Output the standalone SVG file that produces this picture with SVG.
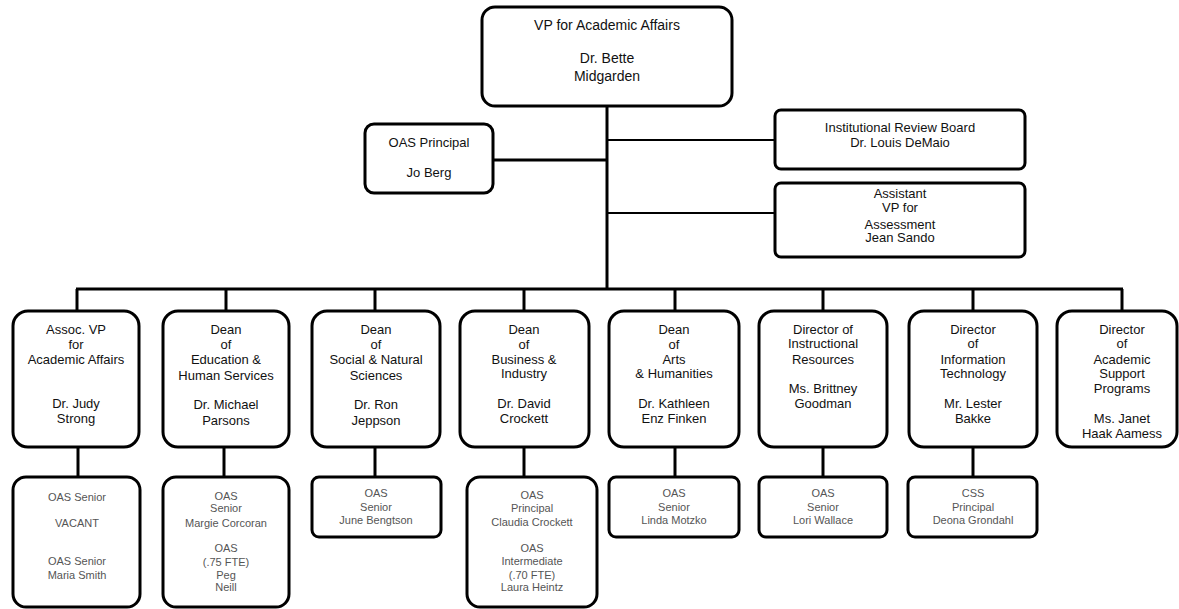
<svg xmlns="http://www.w3.org/2000/svg" width="1179" height="609" viewBox="0 0 1179 609">
<style>
.box{fill:#fff;stroke:#000;stroke-width:3}
.ln{stroke:#000;stroke-width:3;fill:none}
.thin{stroke:#000;stroke-width:2;fill:none}
text{font-family:"Liberation Sans",Arial,sans-serif;text-anchor:middle;fill:#111}
.t14{font-size:14px}
.t13{font-size:13px}
.s{font-size:11px;fill:#555}
</style>
<rect width="1179" height="609" fill="#fff"/>
<g id="connectors">
<line class="ln" x1="607" y1="106" x2="607" y2="289"/>
<line class="ln" x1="493" y1="160" x2="607" y2="160"/>
<line class="thin" x1="607" y1="140" x2="775" y2="140"/>
<line class="thin" x1="607" y1="213" x2="775" y2="213"/>
<line class="ln" x1="76" y1="289" x2="1123" y2="289"/>
<line class="ln" x1="77" y1="289" x2="77" y2="311"/>
<line class="ln" x1="226" y1="289" x2="226" y2="311"/>
<line class="ln" x1="375" y1="289" x2="375" y2="311"/>
<line class="ln" x1="524" y1="289" x2="524" y2="311"/>
<line class="ln" x1="675" y1="289" x2="675" y2="311"/>
<line class="ln" x1="823" y1="289" x2="823" y2="311"/>
<line class="ln" x1="973" y1="289" x2="973" y2="311"/>
<line class="ln" x1="1122" y1="289" x2="1122" y2="311"/>
<line class="ln" x1="78" y1="447" x2="78" y2="477"/>
<line class="ln" x1="224" y1="447" x2="224" y2="477"/>
<line class="ln" x1="375" y1="447" x2="375" y2="477"/>
<line class="ln" x1="524" y1="447" x2="524" y2="477"/>
<line class="ln" x1="675" y1="447" x2="675" y2="477"/>
<line class="ln" x1="823" y1="447" x2="823" y2="477"/>
<line class="ln" x1="973" y1="447" x2="973" y2="477"/>
</g>
<g id="vp">
<rect class="box" x="482" y="7" width="250" height="99" rx="13"/>
<text class="t14" x="607" y="30">VP for Academic Affairs</text>
<text class="t14" x="607" y="63">Dr. Bette</text>
<text class="t14" x="607" y="81">Midgarden</text>
</g>
<g id="oas-principal">
<rect class="box" x="365" y="124" width="128" height="69" rx="9"/>
<text class="t13" x="429" y="147">OAS Principal</text>
<text class="t13" x="429" y="177">Jo Berg</text>
</g>
<g id="irb">
<rect class="box" x="775" y="110" width="250" height="59" rx="6"/>
<text class="t13" x="900" y="132">Institutional Review Board</text>
<text class="t13" x="900" y="147">Dr. Louis DeMaio</text>
</g>
<g id="asst-vp">
<rect class="box" x="775" y="183" width="250" height="74" rx="6"/>
<text class="t13" x="900" y="198">Assistant</text>
<text class="t13" x="900" y="212">VP for</text>
<text class="t13" x="900" y="229">Assessment</text>
<text class="t13" x="900" y="242">Jean Sando</text>
</g>
<g id="assoc-vp">
<rect class="box" x="13" y="311" width="126" height="136" rx="15"/>
<text class="t13" x="76" y="334">Assoc. VP</text>
<text class="t13" x="76" y="349">for</text>
<text class="t13" x="76" y="364">Academic Affairs</text>
<text class="t13" x="76" y="408">Dr. Judy</text>
<text class="t13" x="76" y="423">Strong</text>
</g>
<g id="dean-ehs">
<rect class="box" x="163" y="311" width="126" height="136" rx="15"/>
<text class="t13" x="226" y="334">Dean</text>
<text class="t13" x="226" y="349">of</text>
<text class="t13" x="226" y="364">Education &amp;</text>
<text class="t13" x="226" y="380">Human Services</text>
<text class="t13" x="226" y="409">Dr. Michael</text>
<text class="t13" x="226" y="425">Parsons</text>
</g>
<g id="dean-sns">
<rect class="box" x="312" y="311" width="128" height="136" rx="15"/>
<text class="t13" x="376" y="334">Dean</text>
<text class="t13" x="376" y="349">of</text>
<text class="t13" x="376" y="364">Social &amp; Natural</text>
<text class="t13" x="376" y="380">Sciences</text>
<text class="t13" x="376" y="409">Dr. Ron</text>
<text class="t13" x="376" y="425">Jeppson</text>
</g>
<g id="dean-bi">
<rect class="box" x="460" y="311" width="129" height="136" rx="15"/>
<text class="t13" x="524" y="334">Dean</text>
<text class="t13" x="524" y="349">of</text>
<text class="t13" x="524" y="364">Business &amp;</text>
<text class="t13" x="524" y="378">Industry</text>
<text class="t13" x="524" y="408">Dr. David</text>
<text class="t13" x="524" y="423">Crockett</text>
</g>
<g id="dean-ah">
<rect class="box" x="609" y="311" width="130" height="136" rx="15"/>
<text class="t13" x="674" y="334">Dean</text>
<text class="t13" x="674" y="349">of</text>
<text class="t13" x="674" y="364">Arts</text>
<text class="t13" x="674" y="378">&amp; Humanities</text>
<text class="t13" x="674" y="408">Dr. Kathleen</text>
<text class="t13" x="674" y="423">Enz Finken</text>
</g>
<g id="dir-ir">
<rect class="box" x="759" y="311" width="128" height="136" rx="15"/>
<text class="t13" x="823" y="334">Director of</text>
<text class="t13" x="823" y="348">Instructional</text>
<text class="t13" x="823" y="364">Resources</text>
<text class="t13" x="823" y="393">Ms. Brittney</text>
<text class="t13" x="823" y="408">Goodman</text>
</g>
<g id="dir-it">
<rect class="box" x="909" y="311" width="128" height="136" rx="15"/>
<text class="t13" x="973" y="334">Director</text>
<text class="t13" x="973" y="348">of</text>
<text class="t13" x="973" y="364">Information</text>
<text class="t13" x="973" y="378">Technology</text>
<text class="t13" x="973" y="408">Mr. Lester</text>
<text class="t13" x="973" y="423">Bakke</text>
</g>
<g id="dir-asp">
<rect class="box" x="1057" y="311" width="120" height="136" rx="15"/>
<text class="t13" x="1122" y="334">Director</text>
<text class="t13" x="1122" y="348">of</text>
<text class="t13" x="1122" y="364">Academic</text>
<text class="t13" x="1122" y="378">Support</text>
<text class="t13" x="1122" y="393">Programs</text>
<text class="t13" x="1122" y="423">Ms. Janet</text>
<text class="t13" x="1122" y="438">Haak Aamess</text>
</g>
<g id="staff-assoc">
<rect class="box" x="13" y="477" width="127" height="130" rx="13"/>
<text class="s" x="77" y="501">OAS Senior</text>
<text class="s" x="77" y="527">VACANT</text>
<text class="s" x="77" y="565">OAS Senior</text>
<text class="s" x="77" y="579">Maria Smith</text>
</g>
<g id="staff-ehs">
<rect class="box" x="163" y="477" width="126" height="130" rx="13"/>
<text class="s" x="226" y="500">OAS</text>
<text class="s" x="226" y="512">Senior</text>
<text class="s" x="226" y="527">Margie Corcoran</text>
<text class="s" x="226" y="552">OAS</text>
<text class="s" x="226" y="566">(.75 FTE)</text>
<text class="s" x="226" y="579">Peg</text>
<text class="s" x="226" y="591">Neill</text>
</g>
<g id="staff-sns">
<rect class="box" x="312" y="477" width="129" height="60" rx="7"/>
<text class="s" x="376" y="497">OAS</text>
<text class="s" x="376" y="511">Senior</text>
<text class="s" x="376" y="524">June Bengtson</text>
</g>
<g id="staff-bi">
<rect class="box" x="467" y="477" width="130" height="130" rx="13"/>
<text class="s" x="532" y="499">OAS</text>
<text class="s" x="532" y="512">Principal</text>
<text class="s" x="532" y="526">Claudia Crockett</text>
<text class="s" x="532" y="552">OAS</text>
<text class="s" x="532" y="565">Intermediate</text>
<text class="s" x="532" y="579">(.70 FTE)</text>
<text class="s" x="532" y="591">Laura Heintz</text>
</g>
<g id="staff-ah">
<rect class="box" x="609" y="477" width="130" height="60" rx="7"/>
<text class="s" x="674" y="497">OAS</text>
<text class="s" x="674" y="511">Senior</text>
<text class="s" x="674" y="524">Linda Motzko</text>
</g>
<g id="staff-ir">
<rect class="box" x="759" y="477" width="128" height="60" rx="7"/>
<text class="s" x="823" y="497">OAS</text>
<text class="s" x="823" y="511">Senior</text>
<text class="s" x="823" y="524">Lori Wallace</text>
</g>
<g id="staff-it">
<rect class="box" x="908" y="477" width="129" height="60" rx="7"/>
<text class="s" x="973" y="497">CSS</text>
<text class="s" x="973" y="511">Principal</text>
<text class="s" x="973" y="524">Deona Grondahl</text>
</g>
</svg>
